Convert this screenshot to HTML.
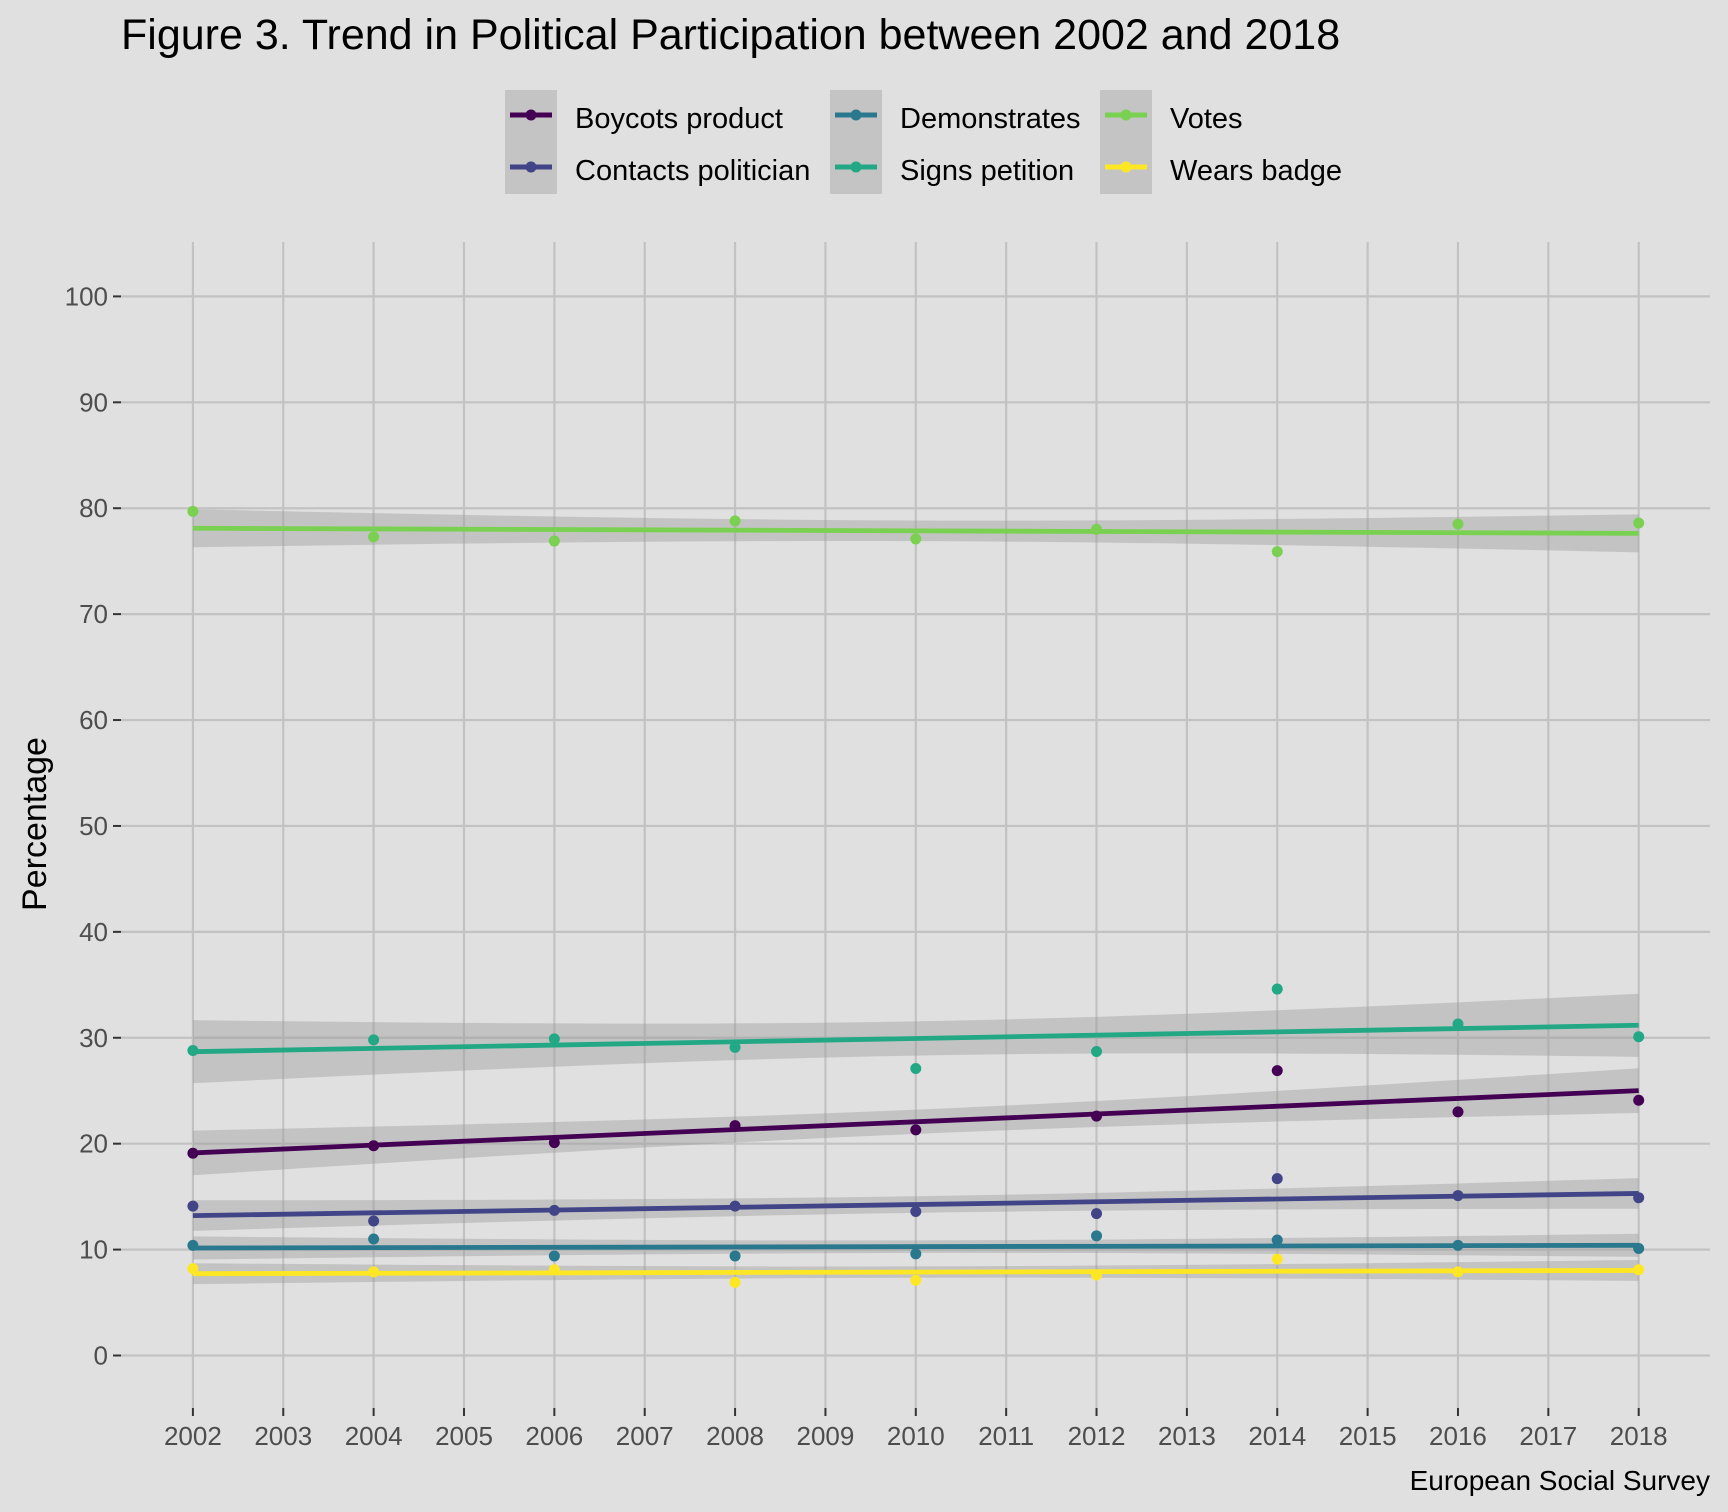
<!DOCTYPE html>
<html><head><meta charset="utf-8"><style>
body{margin:0;background:#e0e0e0;}
svg{display:block;font-family:"Liberation Sans",Arial,sans-serif;}
</style></head><body>
<svg id="chart" width="1728" height="1512" viewBox="0 0 1728 1512" xmlns="http://www.w3.org/2000/svg">
<rect x="0" y="0" width="1728" height="1512" fill="#e0e0e0"/>
<text x="121" y="49" font-size="43" fill="#000">Figure 3. Trend in Political Participation between 2002 and 2018</text>
<g id="grid"></g>
<g id="bands"></g>
<g id="lines"></g>
<g id="points"></g>
<g id="axes"></g>
<g id="legend"></g>
<text transform="translate(46,824) rotate(-90)" text-anchor="middle" font-size="34" fill="#000">Percentage</text>
<text x="1710" y="1490" text-anchor="end" font-size="28" fill="#000">European Social Survey</text>
</svg>
<script>
const years = [2002,2004,2006,2008,2010,2012,2014,2016,2018];
const xTicks = [2002,2003,2004,2005,2006,2007,2008,2009,2010,2011,2012,2013,2014,2015,2016,2017,2018];
const yTicks = [0,10,20,30,40,50,60,70,80,90,100];
const seriesNames = ["Boycots product","Contacts politician","Demonstrates","Signs petition","Votes","Wears badge"];
const seriesColors = ["#440154","#414487","#2A788E","#22A884","#7AD151","#FDE725"];
const boycotts = [19.1,19.8,20.1,21.7,21.3,22.6,26.9,23.0,24.1];
const contacts = [14.1,12.7,13.7,14.1,13.6,13.4,16.7,15.1,14.9];
const demonstrates = [10.4,11.0,9.4,9.4,9.6,11.3,10.9,10.4,10.1];
const petition = [28.8,29.8,29.9,29.1,27.1,28.7,34.6,31.3,30.1];
const votes = [79.7,77.3,76.9,78.8,77.1,78.0,75.9,78.5,78.6];
const badge = [8.2,7.9,8.1,6.9,7.1,7.6,9.1,7.9,8.1];
const seriesValues = [boycotts,contacts,demonstrates,petition,votes,badge];

const NS="http://www.w3.org/2000/svg";
const X0=192.9,X1=1638.7,Y0=1355.5,Y1=296.4;
const PL=121,PR=1710,PT=242,PB=1408;
function xs(v){return X0+(v-2002)/(2018-2002)*(X1-X0);}
function ys(v){return Y0+v/100*(Y1-Y0);}
function mk(tag,attrs,parent){const e=document.createElementNS(NS,tag);for(const k in attrs)e.setAttribute(k,attrs[k]);parent.appendChild(e);return e;}

const grid=document.getElementById('grid');
xTicks.forEach(t=>{
  const l=mk('line',{x1:xs(t),x2:xs(t),y1:PT,y2:PB,stroke:'#c2c2c2','stroke-width':2.2},grid);
  
  
});
yTicks.forEach(t=>{
  const l=mk('line',{x1:PL,x2:PR,y1:ys(t),y2:ys(t),stroke:'#c2c2c2','stroke-width':2.2},grid);
  
  
});
const axes=document.getElementById('axes');
yTicks.forEach(t=>{
  const tk=mk('line',{x1:PL-8,x2:PL,y1:ys(t),y2:ys(t),stroke:'#333','stroke-width':2},axes);
  
  
  const tx=mk('text',{x:PL-13,y:ys(t)+9,'text-anchor':'end','font-size':26,fill:'#4d4d4d'},axes);
  tx.textContent=t;
  
  
});
xTicks.forEach(t=>{
  const tk=mk('line',{x1:xs(t),x2:xs(t),y1:PB,y2:PB+8,stroke:'#333','stroke-width':2},axes);
  
  
  const tx=mk('text',{x:xs(t),y:PB+37,'text-anchor':'middle','font-size':26,fill:'#4d4d4d'},axes);
  tx.textContent=t;
  
  
});

const bands=document.getElementById('bands'),lines=document.getElementById('lines'),points=document.getElementById('points');
const tcrit=2.365;
seriesValues.forEach((vals,i)=>{
  const n=vals.length;
  const mx=years.reduce((a,b)=>a+b,0)/n, my=vals.reduce((a,b)=>a+b,0)/n;
  let sxx=0,sxy=0;years.forEach((x,j)=>{sxx+=(x-mx)**2;sxy+=(x-mx)*(vals[j]-my);});
  const b=sxy/sxx,a=my-b*mx;
  let sse=0;years.forEach((x,j)=>{sse+=(vals[j]-(a+b*x))**2;});
  const s=Math.sqrt(sse/(n-2));
  const up=[],lo=[];
  for(let k=0;k<=40;k++){
    const x=2002+16*k/40;const f=a+b*x;const se=s*Math.sqrt(1/n+(x-mx)**2/sxx);
    up.push(xs(x)+','+ys(f+tcrit*se));lo.push(xs(x)+','+ys(f-tcrit*se));
  }
  const bd=mk('polygon',{points:up.concat(lo.reverse()).join(' '),fill:'#999','fill-opacity':0.4},bands);
  
  
  const ln=mk('line',{x1:xs(2002),y1:ys(a+b*2002),x2:xs(2018),y2:ys(a+b*2018),stroke:seriesColors[i],'stroke-width':4.8},lines);
  
  
  vals.forEach((v,j)=>{
    const c=mk('circle',{cx:xs(years[j]),cy:ys(v),r:5.5,fill:seriesColors[i]},points);
    
    
  });
});

const legend=document.getElementById('legend');
const colX=[505,830,1100],rowY=[118,170];
seriesNames.forEach((nm,i)=>{
  const col=Math.floor(i/2),row=i%2;
  const kx=colX[col],ky=rowY[row];
  const g=mk('g',{},legend);
  
  
  mk('rect',{x:kx,y:ky-28,width:52,height:52,fill:'#c4c4c4'},g);
  mk('line',{x1:kx+5,x2:kx+47,y1:ky-3,y2:ky-3,stroke:seriesColors[i],'stroke-width':5},g);
  mk('circle',{cx:kx+26,cy:ky-3,r:5.5,fill:seriesColors[i]},g);
  const t=mk('text',{x:kx+70,y:ky+10,'font-size':29,fill:'#000'},g);
  t.textContent=nm;
});
</script>
</body></html>
